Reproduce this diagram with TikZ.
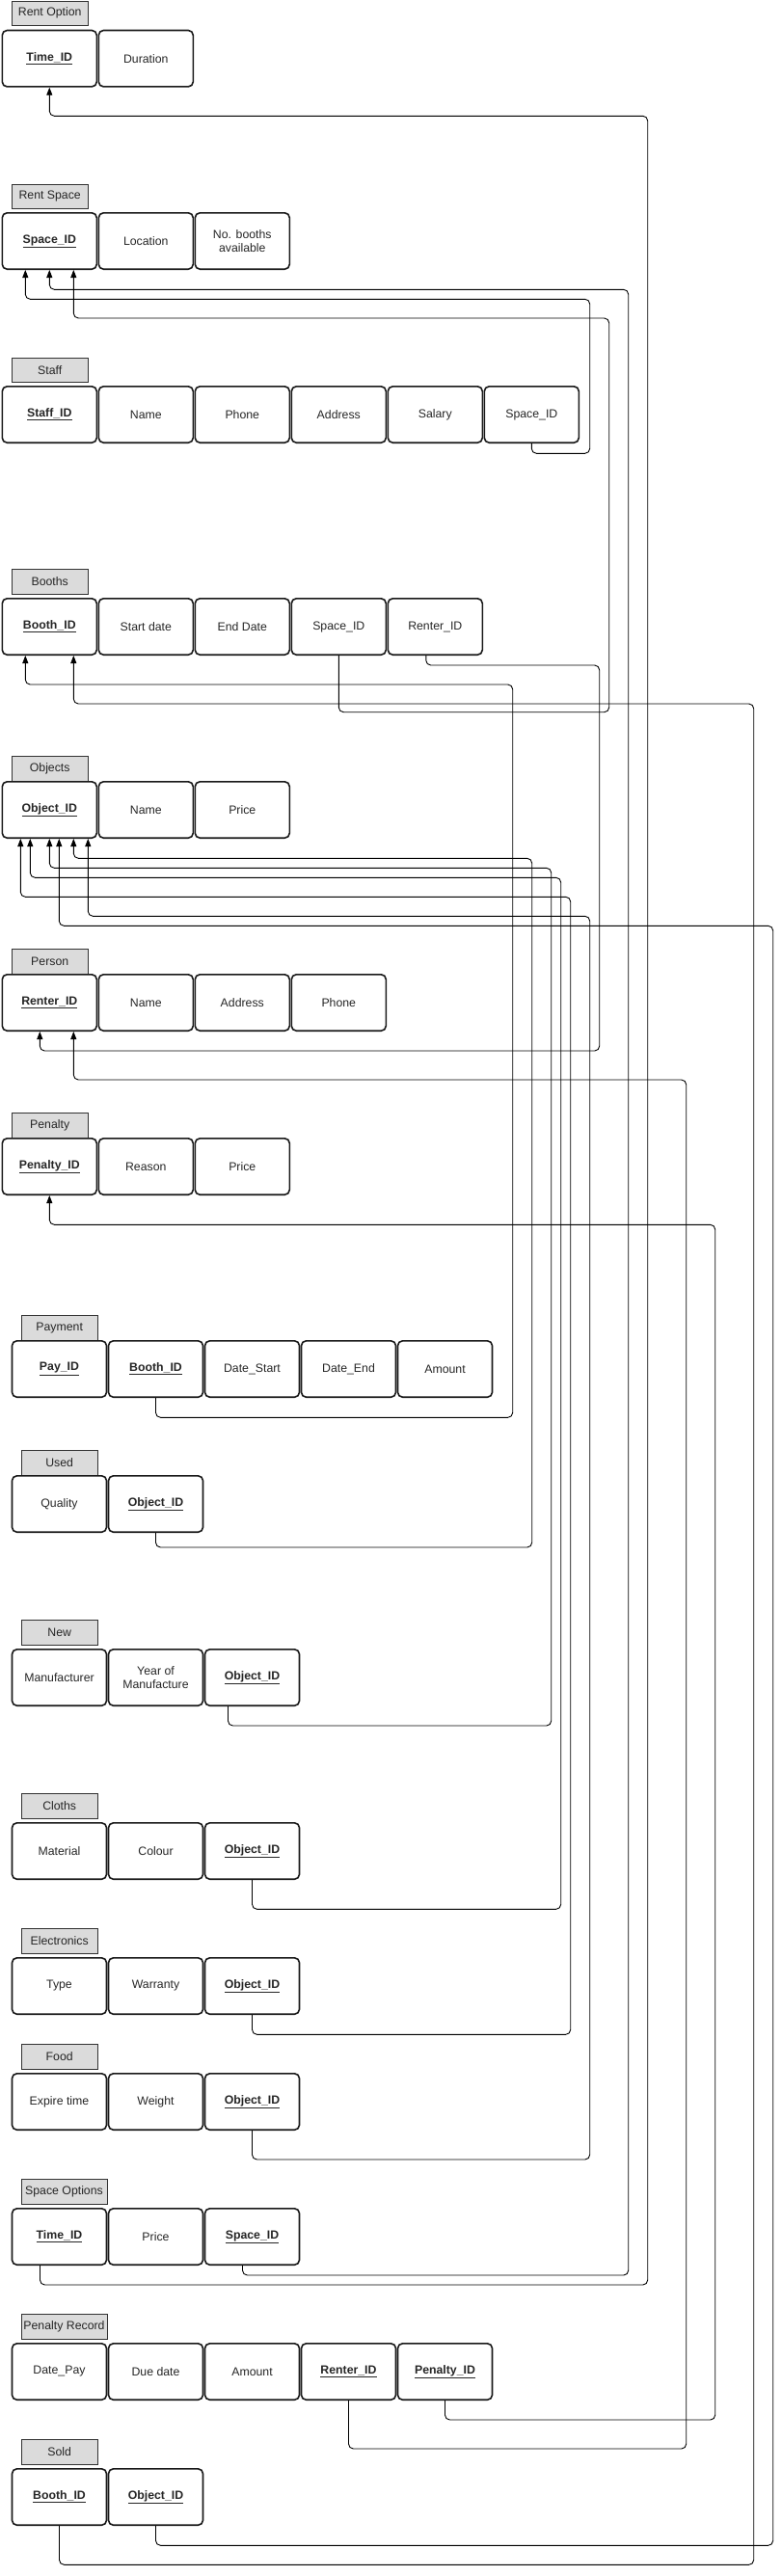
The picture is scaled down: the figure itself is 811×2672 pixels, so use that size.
\documentclass[tikz,border=0pt]{standalone}
\usepackage{fontspec}
\setmainfont{Liberation Sans}
\usetikzlibrary{arrows.meta,calc}
\begin{document}
\begin{tikzpicture}[x=1pt,y=-1pt,
  attr/.style={draw=black!90, line width=1.6pt, rounded corners=5pt, minimum width=98pt, minimum height=58.4pt, inner sep=0pt, anchor=north west, align=center, font=\fontsize{12.3}{14.5}\selectfont, text=black!85},
  hdr/.style={draw=black!80, line width=0.8pt, fill=black!14, minimum width=79.6pt, minimum height=25.2pt, inner sep=0pt, anchor=north west, font=\fontsize{12.3}{14.5}\selectfont, text=black!85},
  whdr/.style={hdr, minimum width=89.2pt},
  fk/.style={line width=0.9pt, rounded corners=5pt, draw=black},
  arr/.style={fk, -{Triangle[length=8pt,width=6pt]}}
]
\newcommand{\keyt}[1]{\underline{\textbf{#1}}}
\useasboundingbox (0,0) rectangle (811,2672);

% Rent Option
\node[hdr] (roh) at (11.5,0.7) {Rent Option};
\node[attr] (ro1) at (1.5,30.7) {\keyt{Time\_ID}};
\node[attr] (ro2) at (101.5,30.7) {Duration};

% Rent Space
\node[hdr] (rsh) at (11.5,190.7) {Rent Space};
\node[attr] (rs1) at (1.5,220) {\keyt{Space\_ID}};
\node[attr] (rs2) at (101.5,220) {Location};
\node[attr] (rs3) at (201.5,220) {No. booths\\available};

% Staff
\node[hdr] (sth) at (11.5,370.7) {Staff};
\node[attr] (st1) at (1.5,400) {\keyt{Staff\_ID}};
\node[attr] (st2) at (101.5,400) {Name};
\node[attr] (st3) at (201.5,400) {Phone};
\node[attr] (st4) at (301.5,400) {Address};
\node[attr] (st5) at (401.5,400) {Salary};
\node[attr] (st6) at (501.5,400) {Space\_ID};

% Booths
\node[hdr] (boh) at (11.5,590.3) {Booths};
\node[attr] (bo1) at (1.5,620) {\keyt{Booth\_ID}};
\node[attr] (bo2) at (101.5,620) {Start date};
\node[attr] (bo3) at (201.5,620) {End Date};
\node[attr] (bo4) at (301.5,620) {Space\_ID};
\node[attr] (bo5) at (401.5,620) {Renter\_ID};

% Objects
\node[hdr] (obh) at (11.5,784.3) {Objects};
\node[attr] (ob1) at (1.5,810) {\keyt{Object\_ID}};
\node[attr] (ob2) at (101.5,810) {Name};
\node[attr] (ob3) at (201.5,810) {Price};

% Person
\node[hdr] (peh) at (11.5,984.3) {Person};
\node[attr] (pe1) at (1.5,1010) {\keyt{Renter\_ID}};
\node[attr] (pe2) at (101.5,1010) {Name};
\node[attr] (pe3) at (201.5,1010) {Address};
\node[attr] (pe4) at (301.5,1010) {Phone};

% Penalty
\node[hdr] (pnh) at (11.5,1154.3) {Penalty};
\node[attr] (pn1) at (1.5,1180) {\keyt{Penalty\_ID}};
\node[attr] (pn2) at (101.5,1180) {Reason};
\node[attr] (pn3) at (201.5,1180) {Price};

% Payment
\node[hdr] (pah) at (21.5,1364.3) {Payment};
\node[attr] (pa1) at (11.7,1390) {\keyt{Pay\_ID}};
\node[attr] (pa2) at (111.7,1390) {\keyt{Booth\_ID}};
\node[attr] (pa3) at (211.7,1390) {Date\_Start};
\node[attr] (pa4) at (311.7,1390) {Date\_End};
\node[attr] (pa5) at (411.7,1390) {Amount};

% Used
\node[hdr] (ush) at (21.5,1504.3) {Used};
\node[attr] (us1) at (11.7,1530) {Quality};
\node[attr] (us2) at (111.7,1530) {\keyt{Object\_ID}};

% New
\node[hdr] (nwh) at (21.5,1680.3) {New};
\node[attr] (nw1) at (11.7,1710) {Manufacturer};
\node[attr] (nw2) at (111.7,1710) {Year of\\Manufacture};
\node[attr] (nw3) at (211.7,1710) {\keyt{Object\_ID}};

% Cloths
\node[hdr] (clh) at (21.5,1860.3) {Cloths};
\node[attr] (cl1) at (11.7,1890) {Material};
\node[attr] (cl2) at (111.7,1890) {Colour};
\node[attr] (cl3) at (211.7,1890) {\keyt{Object\_ID}};

% Electronics
\node[hdr] (elh) at (21.5,2000.3) {Electronics};
\node[attr] (el1) at (11.7,2030) {Type};
\node[attr] (el2) at (111.7,2030) {Warranty};
\node[attr] (el3) at (211.7,2030) {\keyt{Object\_ID}};

% Food
\node[hdr] (fdh) at (21.5,2120.3) {Food};
\node[attr] (fd1) at (11.7,2150) {Expire time};
\node[attr] (fd2) at (111.7,2150) {Weight};
\node[attr] (fd3) at (211.7,2150) {\keyt{Object\_ID}};

% Space Options
\node[whdr] (soh) at (21.5,2260.3) {Space Options};
\node[attr] (so1) at (11.7,2290) {\keyt{Time\_ID}};
\node[attr] (so2) at (111.7,2290) {Price};
\node[attr] (so3) at (211.7,2290) {\keyt{Space\_ID}};

% Penalty Record
\node[whdr] (prh) at (21.5,2400.3) {Penalty Record};
\node[attr] (pr1) at (11.7,2430) {Date\_Pay};
\node[attr] (pr2) at (111.7,2430) {Due date};
\node[attr] (pr3) at (211.7,2430) {Amount};
\node[attr] (pr4) at (311.7,2430) {\keyt{Renter\_ID}};
\node[attr] (pr5) at (411.7,2430) {\keyt{Penalty\_ID}};

% Sold
\node[hdr] (sdh) at (21.5,2530.3) {Sold};
\node[attr] (sd1) at (11.7,2560) {\keyt{Booth\_ID}};
\node[attr] (sd2) at (111.7,2560) {\keyt{Object\_ID}};

% Connectors
\draw[arr] ([xshift=-20pt]so1.south) |- (671.7,2370) -- (671.7,120.3) -| (ro1.south);
\draw[arr] ([xshift=-10pt]so3.south) |- (651.7,2360) -- (651.7,300.3) -| (rs1.south);
\draw[arr] (st6.south) |- (611.7,470.3) -- (611.7,310.3) -| ([xshift=-25pt]rs1.south);
\draw[arr] (bo4.south) |- (631.7,738.7) -- (631.7,330) -| ([xshift=25pt]rs1.south);
\draw[arr] ([xshift=-9.5pt]bo5.south) |- (621.7,690) -- (621.7,1090) -| ([xshift=-10pt]pe1.south);
\draw[arr] (pa2.south) |- (531.7,1470.3) -- (531.7,710) -| ([xshift=-25pt]bo1.south);
\draw[arr] (sd1.south) |- (781.7,2660.3) -- (781.7,730) -| ([xshift=25pt]bo1.south);
\draw[arr] (us2.south) |- (551.7,1605) -- (551.7,890.3) -| ([xshift=25pt]ob1.south);
\draw[arr] ([xshift=-25pt]nw3.south) |- (571.7,1790) -- (571.7,900.3) -| (ob1.south);
\draw[arr] (cl3.south) |- (581.7,1980.3) -- (581.7,910.3) -| ([xshift=-20pt]ob1.south);
\draw[arr] (el3.south) |- (591.7,2110.3) -- (591.7,930.3) -| ([xshift=-30pt]ob1.south);
\draw[arr] (fd3.south) |- (611.7,2240) -- (611.7,950.3) -| ([xshift=40pt]ob1.south);
\draw[arr] (sd2.south) |- (801.7,2640.3) -- (801.7,960.3) -| ([xshift=10pt]ob1.south);
\draw[arr] (pr4.south) |- (711.7,2540) -- (711.7,1120) -| ([xshift=25pt]pe1.south);
\draw[arr] (pr5.south) |- (741.7,2510) -- (741.7,1270.3) -| (pn1.south);
\end{tikzpicture}
\end{document}
